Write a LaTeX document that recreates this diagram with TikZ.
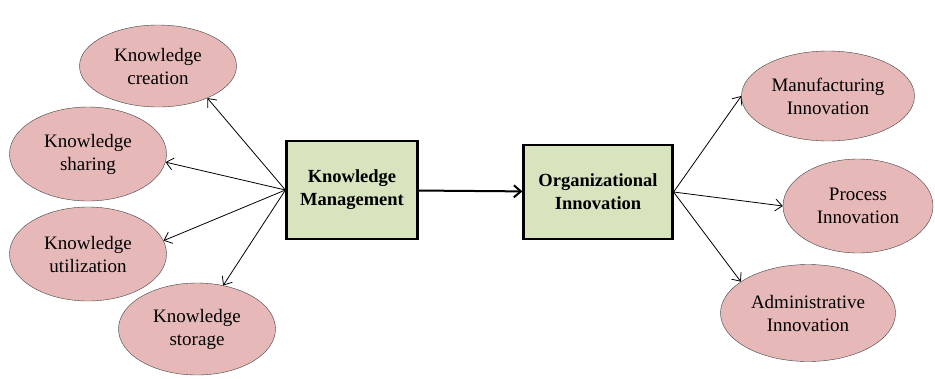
\documentclass[tikz,border=0pt]{standalone}
\usepackage{fontspec}
\setmainfont{Liberation Serif}
\usetikzlibrary{shapes.geometric,arrows.meta}
\definecolor{ovalpink}{HTML}{E6B9B8}
\definecolor{boxgreen}{HTML}{D7E4BD}

\begin{document}
\begin{tikzpicture}[x=1pt, y=-1pt,
    every node/.style={align=center, font=\fontsize{19}{23}\selectfont},
    oval/.style={ellipse, draw=black!75, fill=ovalpink, inner sep=0pt, minimum width=157pt, minimum height=94pt},
    block/.style={draw, line width=2.2pt, fill=boxgreen, font=\bfseries\fontsize{18.5}{23}\selectfont},
    barb/.style={-{Straight Barb[length=7pt,width=12pt]}, line width=0.8pt}]
    \useasboundingbox (0,0) rectangle (935,378);
    % knowledge side
    \node[oval, minimum height=82pt] (kc) at (158,66) {Knowledge\\creation};
    \node[oval] (kh) at (88,154) {Knowledge\\sharing};
    \node[oval] (ku) at (88,254) {Knowledge\\utilization};
    \node[oval, minimum height=92pt] (ks) at (197,329) {Knowledge\\storage};
    \node[block, minimum width=131pt, minimum height=98pt] (km) at (352,190) {Knowledge\\Management};
    % innovation side
    \node[block, minimum width=149pt, minimum height=94pt] (org) at (598,192) {Organizational\\Innovation};
    \node[oval, minimum width=173pt, minimum height=90pt] (mi) at (828,96) {Manufacturing\\Innovation};
    \node[oval, minimum width=150pt] (pi) at (858,206) {Process\\Innovation};
    \node[oval, minimum width=175pt, minimum height=97pt] (ai) at (808,313) {Administrative\\Innovation};
    \draw[barb] (km.west) -- (kc.-33); \draw[barb] (km.west) -- (kh.-6);
    \draw[barb] (km.west) -- (ku.10); \draw[barb] (km.west) -- (ks.59);
    \draw[barb, line width=2pt] (km) -- (org);
    \draw[barb] (org.east) -- (mi.west); \draw[barb] (org.east) -- (pi.west);
    \draw[barb] (org.east) -- (ai.155);
\end{tikzpicture}
\end{document}
